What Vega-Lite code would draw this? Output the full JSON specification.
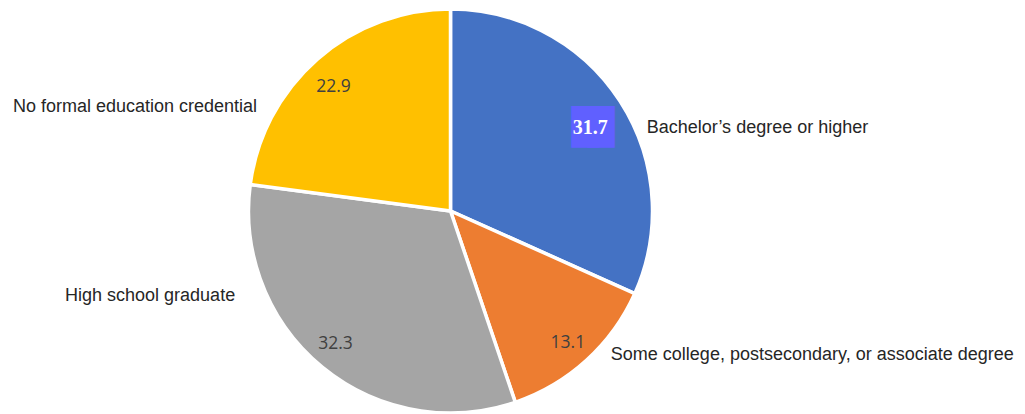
{
  "$schema": "https://vega.github.io/schema/vega-lite/v6.json",
  "width": 901,
  "height": 414,
  "autosize": {"type": "none"},
  "padding": {"left": 0, "top": 4, "right": 124, "bottom": 0},
  "background": "white",
  "config": {"view": {"stroke": null}},
  "data": {
    "values": [
      {"category": "Bachelor’s degree or higher", "value": 31.7},
      {"category": "Some college, postsecondary, or associate degree", "value": 13.1},
      {"category": "High school graduate", "value": 32.3},
      {"category": "No formal education credential", "value": 22.9}
    ]
  },
  "transform": [{"window": [{"op": "row_number", "as": "idx"}]}],
  "layer": [
    {
      "mark": {"type": "arc", "outerRadius": 202, "stroke": "white", "strokeWidth": 3.5},
      "encoding": {
        "theta": {"field": "value", "type": "quantitative", "stack": true},
        "order": {"field": "idx", "type": "quantitative"},
        "color": {
          "field": "category", "type": "nominal", "legend": null,
          "scale": {
            "domain": ["Bachelor’s degree or higher", "Some college, postsecondary, or associate degree", "High school graduate", "No formal education credential"],
            "range": ["#4472C4", "#ED7D31", "#A5A5A5", "#FFC000"]
          }
        }
      }
    },
    {
      "mark": {"type": "text", "radius": 170, "font": "Open Sans", "fontSize": 17.5, "fill": "#404040", "align": "center", "baseline": "middle", "dx": 3, "dy": 6},
      "encoding": {
        "theta": {"field": "value", "type": "quantitative", "stack": true},
        "order": {"field": "idx", "type": "quantitative"},
        "detail": {"field": "category", "type": "nominal"},
        "text": {"condition": {"test": "datum.value == 13.1", "field": "value", "type": "quantitative", "format": ".1f"}, "value": ""}
      }
    },
    {
      "mark": {"type": "text", "radius": 170, "font": "Open Sans", "fontSize": 17.5, "fill": "#404040", "align": "center", "baseline": "middle", "dx": -7, "dy": 2},
      "encoding": {
        "theta": {"field": "value", "type": "quantitative", "stack": true},
        "order": {"field": "idx", "type": "quantitative"},
        "detail": {"field": "category", "type": "nominal"},
        "text": {"condition": {"test": "datum.value == 32.3", "field": "value", "type": "quantitative", "format": ".1f"}, "value": ""}
      }
    },
    {
      "mark": {"type": "text", "radius": 170, "font": "Open Sans", "fontSize": 17.5, "fill": "#404040", "align": "center", "baseline": "middle", "dx": -5, "dy": 4},
      "encoding": {
        "theta": {"field": "value", "type": "quantitative", "stack": true},
        "order": {"field": "idx", "type": "quantitative"},
        "detail": {"field": "category", "type": "nominal"},
        "text": {"condition": {"test": "datum.value == 22.9", "field": "value", "type": "quantitative", "format": ".1f"}, "value": ""}
      }
    },
    {
      "mark": {"type": "text", "radius": 170, "font": "DejaVu Sans", "fontSize": 35, "fill": "#6060FF", "align": "center", "baseline": "middle", "dx": -8, "dy": 9},
      "encoding": {
        "theta": {"field": "value", "type": "quantitative", "stack": true},
        "order": {"field": "idx", "type": "quantitative"},
        "detail": {"field": "category", "type": "nominal"},
        "text": {"condition": {"test": "datum.value == 31.7", "value": "█"}, "value": ""}
      }
    },
    {
      "mark": {"type": "text", "radius": 170, "font": "DejaVu Sans", "fontSize": 35, "fill": "#6060FF", "align": "center", "baseline": "middle", "dx": 8, "dy": 9},
      "encoding": {
        "theta": {"field": "value", "type": "quantitative", "stack": true},
        "order": {"field": "idx", "type": "quantitative"},
        "detail": {"field": "category", "type": "nominal"},
        "text": {"condition": {"test": "datum.value == 31.7", "value": "█"}, "value": ""}
      }
    },
    {
      "mark": {"type": "text", "radius": 170, "font": "Liberation Serif", "fontWeight": "bold", "fontSize": 20, "fill": "white", "align": "center", "baseline": "middle", "dx": -3, "dy": 9.5},
      "encoding": {
        "theta": {"field": "value", "type": "quantitative", "stack": true},
        "order": {"field": "idx", "type": "quantitative"},
        "detail": {"field": "category", "type": "nominal"},
        "text": {"condition": {"test": "datum.value == 31.7", "field": "value", "type": "quantitative", "format": ".1f"}, "value": ""}
      }
    },
    {
      "mark": {"type": "text", "radius": 210, "font": "Liberation Sans", "fontSize": 18, "fill": "#262626", "align": "left", "baseline": "middle", "dx": 20, "dy": 31},
      "encoding": {
        "theta": {"field": "value", "type": "quantitative", "stack": true},
        "order": {"field": "idx", "type": "quantitative"},
        "detail": {"field": "category", "type": "nominal"},
        "text": {"condition": {"test": "datum.value == 31.7", "field": "category", "type": "nominal"}, "value": ""}
      }
    },
    {
      "mark": {"type": "text", "radius": 210, "font": "Liberation Sans", "fontSize": 18, "fill": "#262626", "align": "left", "baseline": "middle", "dx": 19, "dy": -11},
      "encoding": {
        "theta": {"field": "value", "type": "quantitative", "stack": true},
        "order": {"field": "idx", "type": "quantitative"},
        "detail": {"field": "category", "type": "nominal"},
        "text": {"condition": {"test": "datum.value == 13.1", "field": "category", "type": "nominal"}, "value": ""}
      }
    },
    {
      "mark": {"type": "text", "radius": 210, "font": "Liberation Sans", "fontSize": 18, "fill": "#262626", "align": "right", "baseline": "middle", "dx": -82, "dy": -77},
      "encoding": {
        "theta": {"field": "value", "type": "quantitative", "stack": true},
        "order": {"field": "idx", "type": "quantitative"},
        "detail": {"field": "category", "type": "nominal"},
        "text": {"condition": {"test": "datum.value == 32.3", "field": "category", "type": "nominal"}, "value": ""}
      }
    },
    {
      "mark": {"type": "text", "radius": 210, "font": "Liberation Sans", "fontSize": 18, "fill": "#262626", "align": "right", "baseline": "middle", "dx": -55, "dy": 54},
      "encoding": {
        "theta": {"field": "value", "type": "quantitative", "stack": true},
        "order": {"field": "idx", "type": "quantitative"},
        "detail": {"field": "category", "type": "nominal"},
        "text": {"condition": {"test": "datum.value == 22.9", "field": "category", "type": "nominal"}, "value": ""}
      }
    }
  ]
}
